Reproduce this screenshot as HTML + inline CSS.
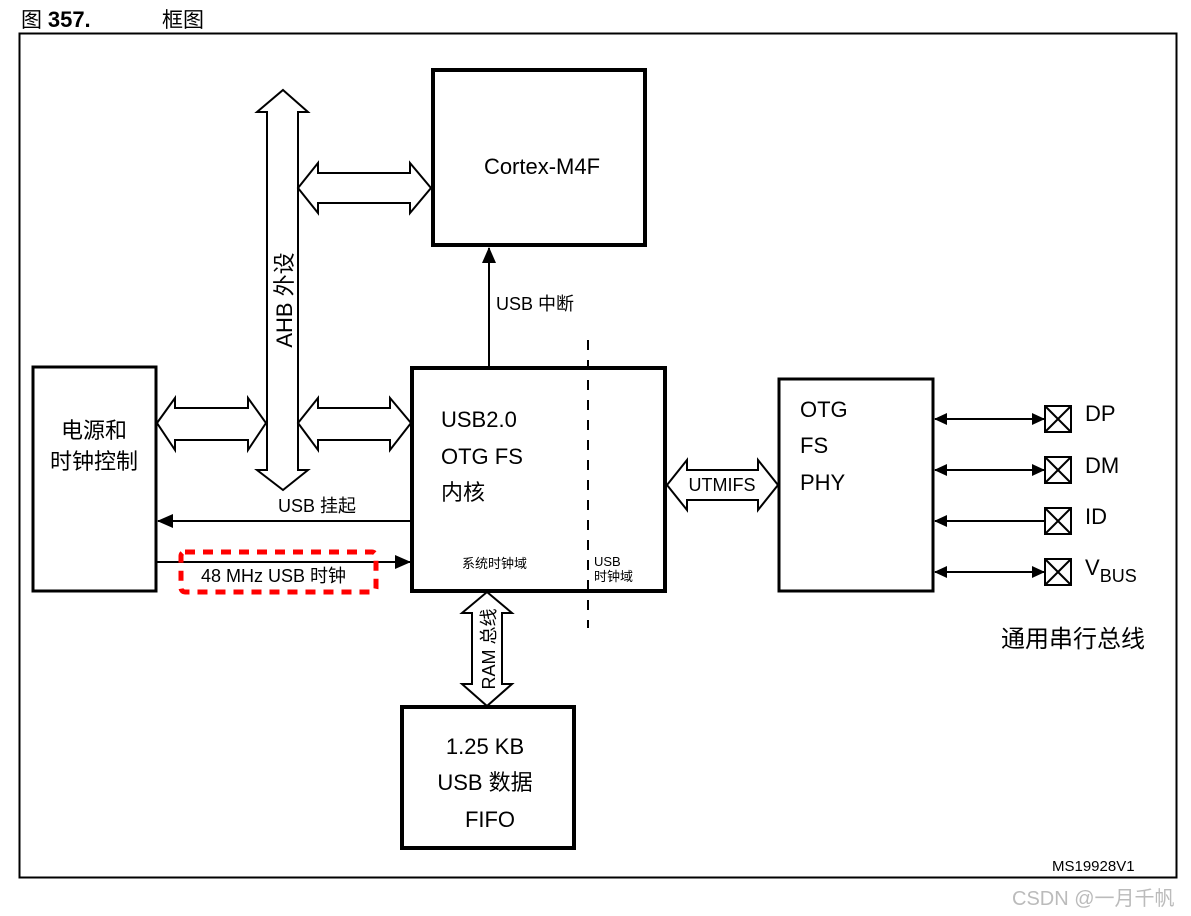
<!DOCTYPE html>
<html><head><meta charset="utf-8"><style>
html,body{margin:0;padding:0;background:#fff;}
svg{display:block;}
text{font-family:"Liberation Sans","Noto Sans CJK SC",sans-serif;fill:#000;}
</style></head><body>
<svg width="1191" height="916" viewBox="0 0 1191 916" xmlns="http://www.w3.org/2000/svg">
<defs>
<marker id="ah" markerWidth="13" markerHeight="12" refX="12" refY="6" orient="auto-start-reverse" markerUnits="userSpaceOnUse"><path d="M0,0 L13,6 L0,12 z" fill="#000"/></marker>
<marker id="ah2" markerWidth="16" markerHeight="14" refX="15" refY="7" orient="auto-start-reverse" markerUnits="userSpaceOnUse"><path d="M0,0 L16,7 L0,14 z" fill="#000"/></marker>
</defs>
<text x="21" y="27" font-size="21">图 <tspan font-weight="bold" font-size="22">357.</tspan></text>
<text x="162" y="27" font-size="21">框图</text>
<rect x="19.5" y="33.5" width="1157" height="844" fill="none" stroke="#000" stroke-width="2"/>

<path d="M283,90 L308,112 L298,112 L298,470 L308,470 L283,490 L257,470 L267,470 L267,112 L257,112 Z" fill="#fff" stroke="#000" stroke-width="2"/>
<text transform="translate(292,300) rotate(-90)" font-size="22" text-anchor="middle">AHB 外设</text>

<path d="M298,188 L318,163 L318,173 L410,173 L410,163 L431,188 L410,213 L410,203 L318,203 L318,213 Z" fill="#fff" stroke="#000" stroke-width="2"/>
<path d="M157,423 L175,398 L175,408 L248,408 L248,398 L266,423 L248,450 L248,440 L175,440 L175,450 Z" fill="#fff" stroke="#000" stroke-width="2"/>
<path d="M298,423 L318,398 L318,408 L390,408 L390,398 L411,423 L390,450 L390,440 L318,440 L318,450 Z" fill="#fff" stroke="#000" stroke-width="2"/>
<path d="M667,485 L687,460 L687,470 L758,470 L758,460 L778,485 L758,510 L758,500 L687,500 L687,510 Z" fill="#fff" stroke="#000" stroke-width="2"/>
<text x="722" y="491" font-size="18" text-anchor="middle">UTMIFS</text>
<path d="M487,592 L512,613 L502,613 L502,684 L512,684 L487,706 L462,684 L472,684 L472,613 L462,613 Z" fill="#fff" stroke="#000" stroke-width="2"/>
<text transform="translate(495,649) rotate(-90)" font-size="18" text-anchor="middle">RAM 总线</text>

<rect x="433" y="70" width="212" height="175" fill="#fff" stroke="#000" stroke-width="4"/>
<text x="542" y="174" font-size="22" text-anchor="middle">Cortex-M4F</text>

<rect x="33" y="367" width="123" height="224" fill="#fff" stroke="#000" stroke-width="3"/>
<text x="94" y="438" font-size="22" text-anchor="middle">电源和</text>
<text x="94" y="469" font-size="22" text-anchor="middle">时钟控制</text>

<rect x="412" y="368" width="253" height="223" fill="#fff" stroke="#000" stroke-width="4"/>
<text x="441" y="427" font-size="22">USB2.0</text>
<text x="441" y="464" font-size="22">OTG FS</text>
<text x="441" y="500" font-size="22">内核</text>
<text x="462" y="568" font-size="13">系统时钟域</text>
<text x="594" y="566" font-size="13">USB</text>
<text x="594" y="581" font-size="13">时钟域</text>
<line x1="588" y1="340" x2="588" y2="628" stroke="#000" stroke-width="2" stroke-dasharray="10,10"/>

<rect x="779" y="379" width="154" height="212" fill="#fff" stroke="#000" stroke-width="3"/>
<text x="800" y="417" font-size="22">OTG</text>
<text x="800" y="453" font-size="22">FS</text>
<text x="800" y="490" font-size="22">PHY</text>

<rect x="402" y="707" width="172" height="141" fill="#fff" stroke="#000" stroke-width="4"/>
<text x="485" y="754" font-size="22" text-anchor="middle">1.25 KB</text>
<text x="485" y="790" font-size="22" text-anchor="middle">USB 数据</text>
<text x="490" y="827" font-size="22" text-anchor="middle">FIFO</text>

<line x1="489" y1="366" x2="489" y2="248" stroke="#000" stroke-width="2" marker-end="url(#ah2)"/>
<text x="496" y="310" font-size="18">USB 中断</text>

<line x1="413" y1="521" x2="158" y2="521" stroke="#000" stroke-width="2" marker-end="url(#ah2)"/>
<text x="278" y="512" font-size="18">USB 挂起</text>
<line x1="156" y1="562" x2="410" y2="562" stroke="#000" stroke-width="2" marker-end="url(#ah2)"/>
<rect x="181" y="552" width="195" height="40" rx="4" fill="none" stroke="#f00" stroke-width="5" stroke-dasharray="10,8"/>
<text x="201" y="582" font-size="18">48 MHz USB 时钟</text>

<g stroke="#000" stroke-width="2" fill="none">
<line x1="935" y1="419" x2="1044" y2="419" marker-start="url(#ah)" marker-end="url(#ah)"/>
<line x1="935" y1="470" x2="1044" y2="470" marker-start="url(#ah)" marker-end="url(#ah)"/>
<line x1="935" y1="521" x2="1044" y2="521" marker-start="url(#ah)"/>
<line x1="935" y1="572" x2="1044" y2="572" marker-start="url(#ah)" marker-end="url(#ah)"/>
<rect x="1045" y="406" width="26" height="26"/><path d="M1045,406 L1071,432 M1071,406 L1045,432"/>
<rect x="1045" y="457" width="26" height="26"/><path d="M1045,457 L1071,483 M1071,457 L1045,483"/>
<rect x="1045" y="508" width="26" height="26"/><path d="M1045,508 L1071,534 M1071,508 L1045,534"/>
<rect x="1045" y="559" width="26" height="26"/><path d="M1045,559 L1071,585 M1071,559 L1045,585"/>
</g>
<text x="1085" y="421" font-size="22">DP</text>
<text x="1085" y="473" font-size="22">DM</text>
<text x="1085" y="524" font-size="22">ID</text>
<text x="1085" y="575" font-size="22">V<tspan font-size="18" dy="7">BUS</tspan></text>
<text x="1001" y="647" font-size="24">通用串行总线</text>
<text x="1052" y="871" font-size="15">MS19928V1</text>
<text x="1012" y="905" font-size="20" style="fill:#bbb">CSDN @一月千帆</text>
</svg>
</body></html>
